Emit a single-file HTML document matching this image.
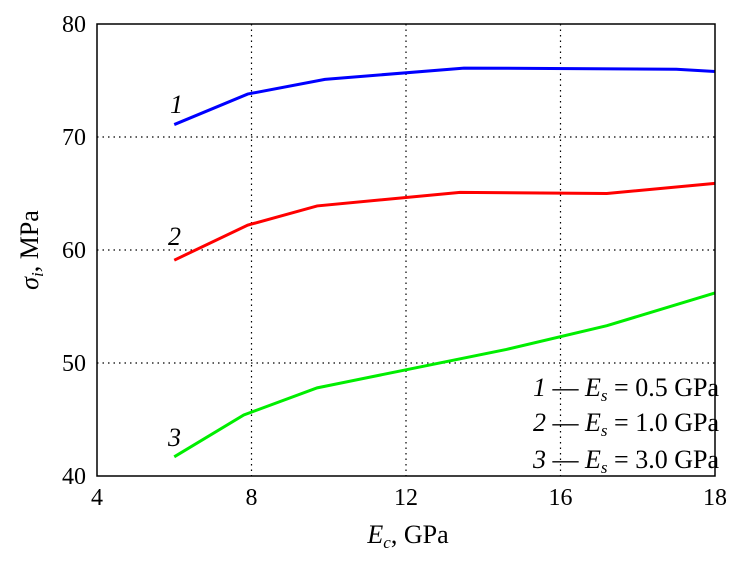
<!DOCTYPE html>
<html><head><meta charset="utf-8"><style>
body{margin:0;background:#fff;}
svg text{font-family:"Liberation Serif","DejaVu Serif",serif;fill:#000;}
</style></head><body>
<svg width="756" height="564" viewBox="0 0 756 564">
<g id="grid"></g>
<g id="series"></g>
<rect x="97" y="24" width="618" height="452" fill="none" stroke="#000" stroke-width="1.5"/>
<g id="ticks"></g>
<text x="408" y="543" font-size="26" text-anchor="middle"><tspan font-style="italic">E</tspan><tspan font-style="italic" font-size="17" dy="5">c</tspan><tspan dy="-5">, GPa</tspan></text>
<text transform="translate(38,250) rotate(-90)" font-size="26" text-anchor="middle"><tspan font-style="italic">σ</tspan><tspan font-style="italic" font-size="17" dy="5">i</tspan><tspan dy="-5">, MPa</tspan></text>
<g font-size="26" font-style="italic">
<text x="170" y="113">1</text>
<text x="168" y="245">2</text>
<text x="168" y="446">3</text>
</g>
<g font-size="26" text-anchor="end">
<text x="719" y="396"><tspan font-style="italic">1</tspan> — <tspan font-style="italic">E</tspan><tspan font-style="italic" font-size="17" dy="5">s</tspan><tspan dy="-5"> = 0.5 GPa</tspan></text>
<text x="719" y="431"><tspan font-style="italic">2</tspan> — <tspan font-style="italic">E</tspan><tspan font-style="italic" font-size="17" dy="5">s</tspan><tspan dy="-5"> = 1.0 GPa</tspan></text>
<text x="719" y="468"><tspan font-style="italic">3</tspan> — <tspan font-style="italic">E</tspan><tspan font-style="italic" font-size="17" dy="5">s</tspan><tspan dy="-5"> = 3.0 GPa</tspan></text>
</g>
</svg>
<script>
const xTicks=[4,8,12,16,20];
const xTickLabels=["4","8","12","16","18"];
const yTicks=[40,50,60,70,80];
const yTickLabels=["40","50","60","70","80"];
const s1x=[6,7.9,9.9,13.5,19,20];
const s1y=[71.1,73.8,75.1,76.1,76.0,75.8];
const s2x=[6,7.9,9.7,13.4,17.2,20];
const s2y=[59.1,62.2,63.9,65.1,65.0,65.9];
const s3x=[6,7.8,9.7,14.6,17.2,20];
const s3y=[41.7,45.4,47.8,51.2,53.3,56.2];
const NS="http://www.w3.org/2000/svg";
const X=v=>97+(v-4)*(618/16);
const Y=v=>476-(v-40)*(452/40);
const grid=document.getElementById('grid'),ticks=document.getElementById('ticks'),series=document.getElementById('series');
function mk(t,a,p){const e=document.createElementNS(NS,t);for(const k in a)e.setAttribute(k,a[k]);p.appendChild(e);return e;}
xTicks.forEach((v,i)=>{
 if(i>0&&i<xTicks.length-1){const g=mk('line',{x1:X(v),x2:X(v),y1:24,y2:476,stroke:'#000','stroke-width':1.2,'stroke-dasharray':'1.5 4'},grid);
 
 }
 const t=mk('text',{x:X(v),y:505,'font-size':24,'text-anchor':'middle'},ticks);t.textContent=xTickLabels[i];
 
 
});
yTicks.forEach((v,i)=>{
 if(i>0&&i<yTicks.length-1){const g=mk('line',{x1:97,x2:715,y1:Y(v),y2:Y(v),stroke:'#000','stroke-width':1.2,'stroke-dasharray':'1.5 4'},grid);
 
 }
 const t=mk('text',{x:86,y:Y(v)+8,'font-size':24,'text-anchor':'end'},ticks);t.textContent=yTickLabels[i];
 
 
});
[[s1x,s1y,'#0000ff'],[s2x,s2y,'#ff0000'],[s3x,s3y,'#00ee00']].forEach((s,k)=>{
 const pts=s[0].map((x,i)=>X(x)+','+Y(s[1][i])).join(' ');
 const p=mk('polyline',{points:pts,fill:'none',stroke:s[2],'stroke-width':3},series);
 
 
});
</script>
</body></html>
